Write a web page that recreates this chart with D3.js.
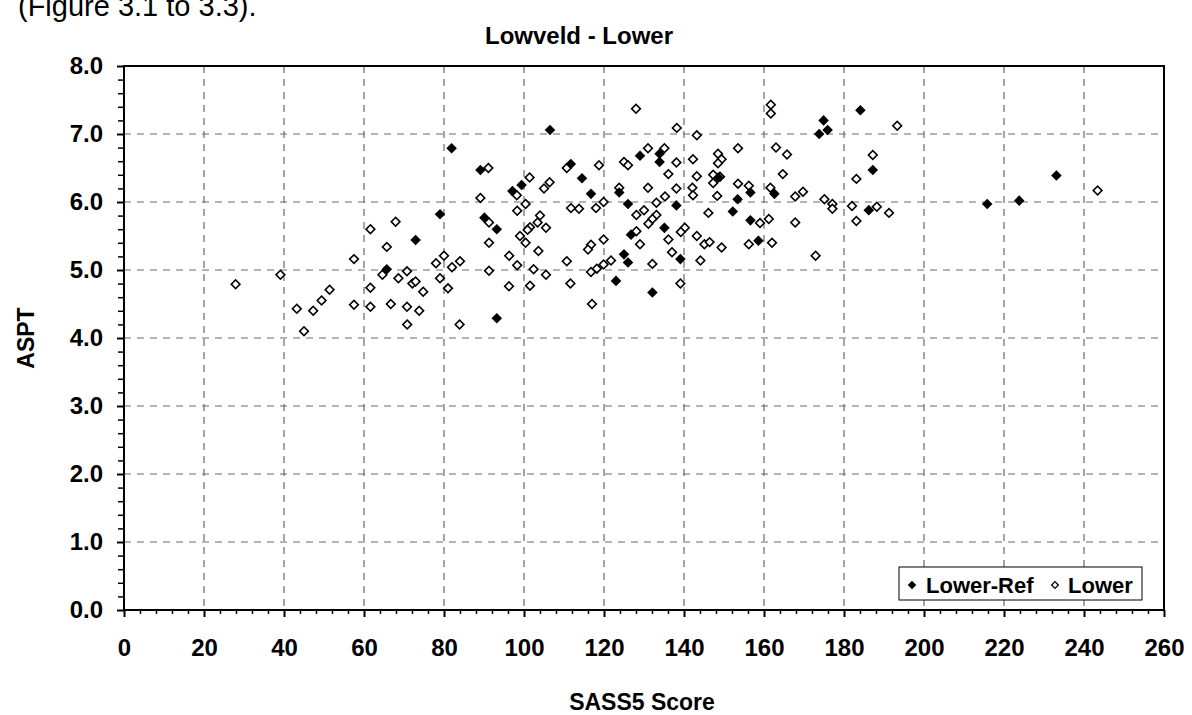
<!DOCTYPE html>
<html>
<head>
<meta charset="utf-8">
<script src="https://cdn.jsdelivr.net/npm/d3@7"></script>
<style>
  html, body { margin: 0; padding: 0; background: #fff; }
  svg { display: block; font-family: "Liberation Sans", Arial, Helvetica, sans-serif; }
</style>
</head>
<body>
<svg id="chart" width="1192" height="715"></svg>
<script>
// ---- Data ----
const xTicks = [0, 20, 40, 60, 80, 100, 120, 140, 160, 180, 200, 220, 240, 260];
const yTicks = [0, 1, 2, 3, 4, 5, 6, 7, 8];
const seriesNames = ["Lower-Ref", "Lower"];

// Lower-Ref (filled diamonds): [SASS5 Score, ASPT]
const lowerRef = [
  [65.7,5.01],[72.9,5.44],[79,5.82],[81.9,6.79],[89.1,6.47],[90.1,5.77],[93.2,5.60],[93.2,4.29],
  [97.1,6.16],[99.4,6.25],[106.5,7.06],[111.7,6.56],[114.5,6.35],[116.75,6.12],[123,4.84],[123.8,6.14],
  [125,5.23],[126,5.11],[126,5.97],[126.75,5.52],[129,6.68],[132.1,4.67],[133.9,6.71],[133.9,6.59],
  [135.1,5.62],[138.1,5.95],[139.1,5.16],[148.6,6.36],[152.2,5.86],[153.4,6.04],[156.6,6.14],[156.6,5.73],
  [158.6,5.43],[162.6,6.12],[173.8,7.0],[174.9,7.20],[175.9,7.06],[184.1,7.35],[186.2,5.88],[187.2,6.47],
  [215.8,5.97],[223.8,6.02],[233.1,6.39]
];

// Lower (open diamonds): [SASS5 Score, ASPT]
const lower = [
  [27.9,4.79],[39.1,4.93],[43.2,4.43],[45,4.10],[47.3,4.40],[49.4,4.55],[51.4,4.71],[57.5,5.16],
  [57.5,4.49],[61.6,5.60],[61.6,4.74],[61.6,4.46],[65.7,5.34],[67.9,5.71],[64.6,4.93],[68.6,4.88],
  [66.7,4.50],
  [91.1,6.50],[110.7,6.50],[101.4,6.36],[98.2,6.10],[106.4,6.29],[105,6.20],[89.1,6.06],[91.25,5.70],
  [100.4,5.97],[98.3,5.87],[104,5.80],[103.4,5.70],[101.5,5.63],[100.9,5.59],[105.5,5.62],[99,5.50],
  [100.4,5.40],[91.25,5.40],[103.6,5.28],[96.3,5.21],[98.3,5.07],[102.4,5.01],[105.5,4.93],[110.7,5.13],
  [111.6,4.80],[96.25,4.76],[101.5,4.77],[91.25,4.99],[80,5.21],[78,5.10],[82,5.04],[84,5.13],
  [79,4.88],[81,4.73],[70.75,4.98],[72.1,4.80],[72.9,4.83],[74.8,4.68],[70.75,4.46],[73.8,4.40],
  [70.8,4.20],[83.9,4.20],
  [128,7.37],[138.2,7.09],[143.2,6.98],[131,6.79],[135.1,6.79],[125,6.59],[126,6.54],[138.1,6.58],
  [142.25,6.63],[148.5,6.71],[149.4,6.63],[148.5,6.57],[153.5,6.79],[118.75,6.54],[136.1,6.41],[143.2,6.38],
  [147.3,6.40],[149,6.37],[147.3,6.28],[153.5,6.27],[156.2,6.24],[123.8,6.21],[131,6.21],[138.1,6.20],
  [142.1,6.21],[142.25,6.10],[148.3,6.09],[135.25,6.08],[133.1,5.99],[119.9,6.00],[118,5.91],[113.75,5.90],
  [111.75,5.91],[130,5.88],[128.1,5.81],[133.1,5.81],[132.1,5.75],[131.1,5.68],[146.1,5.84],[159,5.69],
  [128.1,5.57],[140.2,5.62],[139.2,5.56],[136.1,5.45],[129,5.38],[119.9,5.45],[116.75,5.37],[116,5.30],
  [143.2,5.50],[145.1,5.38],[146.4,5.41],[149.4,5.33],[156.2,5.38],[137,5.26],[144.1,5.14],[121.75,5.14],
  [119.9,5.08],[118.2,5.02],[116.75,4.97],[132.1,5.09],[139.1,4.80],[117,4.50],
  [161.7,7.43],[161.7,7.30],[193.3,7.12],[163,6.80],[165.75,6.70],[187.2,6.69],[164.7,6.41],[183.1,6.34],
  [161.6,6.21],[167.8,6.08],[169.75,6.15],[175.1,6.04],[177.1,5.97],[177.1,5.90],[182,5.94],[188.2,5.93],
  [191.25,5.84],[183.1,5.72],[161.2,5.75],[167.8,5.70],[162,5.40],[172.9,5.21],
  [243.4,6.17]
];

// ---- Layout ----
const svg = d3.select("#chart");
const L = 124, R = 1164, T = 66, B = 610;
const x = d3.scaleLinear().domain([0, 260]).range([L, R]);
const y = d3.scaleLinear().domain([0, 8]).range([B, T]);

// Top-left caption fragment (cut at the top edge, as in the reference)
svg.append("text").attr("x", 18).attr("y", 16)
  .attr("font-size", 29).attr("fill", "#000")
  .text("(Figure 3.1 to 3.3).");

// Title
svg.append("text").attr("x", 579).attr("y", 44)
  .attr("text-anchor", "middle").attr("font-size", 24).attr("font-weight", "bold")
  .text("Lowveld - Lower");

// Gridlines
const grid = svg.append("g");
grid.selectAll("line.v").data(xTicks.slice(1, -1)).join("line")
  .attr("x1", d => x(d)).attr("x2", d => x(d)).attr("y1", T).attr("y2", B)
  .attr("stroke", "#6a6a6a").attr("stroke-width", 1.2).attr("stroke-dasharray", "7,6");
grid.selectAll("line.h").data(yTicks.slice(1, -1)).join("line")
  .attr("x1", L).attr("x2", R).attr("y1", d => y(d)).attr("y2", d => y(d))
  .attr("stroke", "#6a6a6a").attr("stroke-width", 1.2).attr("stroke-dasharray", "7,6");

// Frame
svg.append("rect").attr("x", L).attr("y", T).attr("width", R - L).attr("height", B - T)
  .attr("fill", "none").attr("stroke", "#000").attr("stroke-width", 2);

// Minor ticks
const xMinor = d3.range(0, 261, 4).filter(v => v % 20 !== 0);
const yMinor = d3.range(0, 8.01, 0.2).filter(v => Math.abs(v - Math.round(v)) > 1e-6);
svg.append("g").attr("transform", `translate(0,${B})`)
  .call(d3.axisBottom(x).tickValues(xMinor).tickSize(4).tickFormat(""))
  .call(g => g.select(".domain").remove())
  .selectAll("line").attr("stroke", "#000").attr("stroke-width", 1.5);
svg.append("g").attr("transform", `translate(${L},0)`)
  .call(d3.axisLeft(y).tickValues(yMinor).tickSize(6).tickFormat(""))
  .call(g => g.select(".domain").remove())
  .selectAll("line").attr("stroke", "#000").attr("stroke-width", 1.5);

// Major axes
const xAxis = svg.append("g").attr("transform", `translate(0,${B})`)
  .call(d3.axisBottom(x).tickValues(xTicks).tickSize(7).tickPadding(22).tickFormat(d3.format("d")));
const yAxis = svg.append("g").attr("transform", `translate(${L},0)`)
  .call(d3.axisLeft(y).tickValues(yTicks).tickSize(7).tickPadding(14).tickFormat(d3.format(".1f")));
[xAxis, yAxis].forEach(a => {
  a.select(".domain").remove();
  a.selectAll("line").attr("stroke", "#000").attr("stroke-width", 2);
  a.selectAll("text").attr("font-size", 24).attr("font-weight", "bold").attr("fill", "#000")
    .attr("font-family", '"Liberation Sans", Arial, sans-serif');
});

// Axis titles
svg.append("text").attr("x", 642).attr("y", 710)
  .attr("text-anchor", "middle").attr("font-size", 23).attr("font-weight", "bold")
  .text("SASS5 Score");
svg.append("text").attr("transform", `translate(34,338) rotate(-90)`)
  .attr("text-anchor", "middle").attr("font-size", 23).attr("font-weight", "bold")
  .text("ASPT");

// Points
const openSym = d3.symbol().type(d3.symbolSquare).size(38);
const fillSym = d3.symbol().type(d3.symbolSquare).size(56);
svg.append("g").selectAll("path").data(lower).join("path")
  .attr("d", openSym)
  .attr("transform", d => `translate(${x(d[0])},${y(d[1])}) rotate(45)`)
  .attr("fill", "#fff").attr("stroke", "#000").attr("stroke-width", 1.6);
svg.append("g").selectAll("path").data(lowerRef).join("path")
  .attr("d", fillSym)
  .attr("transform", d => `translate(${x(d[0])},${y(d[1])}) rotate(45)`)
  .attr("fill", "#000");

// Legend
const lg = svg.append("g");
lg.append("rect").attr("x", 899).attr("y", 567).attr("width", 243).attr("height", 33)
  .attr("fill", "#fff").attr("stroke", "#000").attr("stroke-width", 1);
lg.append("path").attr("d", d3.symbol().type(d3.symbolSquare).size(36))
  .attr("transform", "translate(912,585) rotate(45)").attr("fill", "#000");
lg.append("text").attr("x", 926).attr("y", 593).attr("font-size", 22).attr("font-weight", "bold")
  .text(seriesNames[0]);
lg.append("path").attr("d", d3.symbol().type(d3.symbolSquare).size(22))
  .attr("transform", "translate(1055,585) rotate(45)")
  .attr("fill", "#fff").attr("stroke", "#000").attr("stroke-width", 1.3);
lg.append("text").attr("x", 1068).attr("y", 593).attr("font-size", 22).attr("font-weight", "bold")
  .text(seriesNames[1]);
</script>
</body>
</html>
